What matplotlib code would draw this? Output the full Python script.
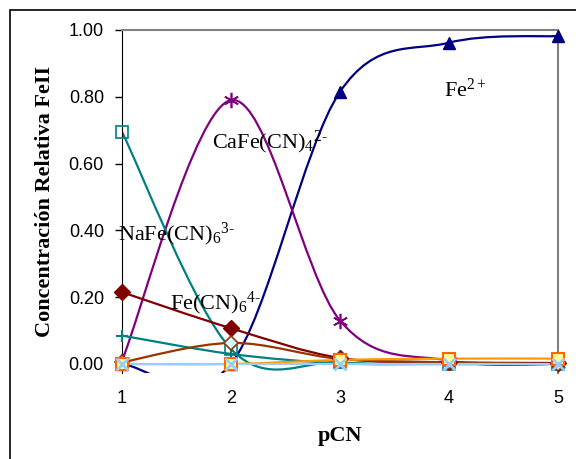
import matplotlib
matplotlib.use('Agg')
import matplotlib.pyplot as plt
from matplotlib.path import Path
from matplotlib.patches import PathPatch, Rectangle

plt.rcParams['mathtext.fontset'] = 'custom'
plt.rcParams['mathtext.rm'] = 'Liberation Serif'
plt.rcParams['mathtext.it'] = 'Liberation Serif:italic'

# data
pcn = [1, 2, 3, 4, 5]
fe2 = [0.0, 0.0, 0.815, 0.962, 0.982]
cafe_cn4 = [0.01, 0.79, 0.13, 0.01, 0.0]
nafe_cn6 = [0.695, 0.045, 0.005, 0.0, 0.0]
fe_cn6 = [0.215, 0.107, 0.018, 0.005, 0.003]
teal_plus = [0.085, 0.03, 0.002, 0.0, 0.0]
brown = [0.005, 0.063, 0.015, 0.005, 0.0]
orange = [0.0, 0.0, 0.012, 0.016, 0.016]
light_blue = [0.0, 0.0, 0.0, 0.0, 0.0]


def smooth_path(xs, ys):
    # Excel style smoothed line: cubic bezier, control points from neighbours
    n = len(xs)
    verts = [(xs[0], ys[0])]
    codes = [Path.MOVETO]
    for i in range(n - 1):
        i0 = max(i - 1, 0)
        i3 = min(i + 2, n - 1)
        c1 = (xs[i] + (xs[i + 1] - xs[i0]) / 6, ys[i] + (ys[i + 1] - ys[i0]) / 6)
        c2 = (xs[i + 1] - (xs[i3] - xs[i]) / 6, ys[i + 1] - (ys[i3] - ys[i]) / 6)
        verts += [c1, c2, (xs[i + 1], ys[i + 1])]
        codes += [Path.CURVE4] * 3
    return Path(verts, codes)


fig = plt.figure(figsize=(5.76, 4.59), dpi=100)
ax = fig.add_axes([122 / 576, 1 - 373 / 459, (558 - 122) / 576, (373 - 30) / 459])

series = [
    (fe2, '#000080', dict(marker='^', mfc='#000080', mec='#000080', ms=9)),
    (cafe_cn4, '#800080', dict(marker=(6, 2, 0), mfc='none', mec='#800080', ms=11, mew=1.2)),
    (nafe_cn6, '#008080', dict(marker='s', mfc='none', mec='#008080', ms=8, mew=1.2)),
    (teal_plus, '#008080', dict(marker='+', mec='#008080', ms=9, mew=1.5)),
    (fe_cn6, '#800000', dict(marker='D', mfc='#800000', mec='#800000', ms=8)),
    (brown, '#993300', dict(marker='D', mfc='#CCFFFF', mec='#993300', ms=7, mew=1.2)),
    (orange, '#FF9900', dict(marker='s', mfc='#FFFF99', mec='#FF6600', ms=8, mew=1.5)),
    (light_blue, '#99CCFF', dict(marker='x', mec='#99CCFF', ms=8, mew=2)),
]

for ys, color, mk in series:
    ax.add_patch(PathPatch(smooth_path(pcn, ys), facecolor='none', edgecolor=color, lw=1.6))
for ys, color, mk in series:
    ax.plot(pcn, ys, linestyle='none', clip_on=False, zorder=5, **mk)

ax.set_xlim(1, 5)
ax.set_ylim(-0.027, 1.0)
ax.set_yticks([0, 0.2, 0.4, 0.6, 0.8, 1.0])
ax.set_yticklabels(['0.00', '0.20', '0.40', '0.60', '0.80', '1.00'])
ax.set_xticks(pcn)
ax.tick_params(axis='y', direction='out', length=5, width=1, pad=8, labelsize=13)
ax.tick_params(axis='x', length=0, pad=12, labelsize=13)
for lab in ax.get_xticklabels() + ax.get_yticklabels():
    lab.set_family('Liberation Sans')

ax.spines['left'].set_color('black')
ax.spines['top'].set_color('#808080')
ax.spines['right'].set_color('#808080')
ax.spines['top'].set_linewidth(1.5)
ax.spines['right'].set_linewidth(1.5)
ax.spines['bottom'].set_visible(False)

ax.set_ylabel('Concentración Relativa FeII', family='Liberation Serif', fontweight='bold', fontsize=16, labelpad=10)
ax.set_xlabel('pCN', family='Liberation Serif', fontweight='bold', fontsize=16, labelpad=14)

tk = dict(fontsize=16, transform=ax.transData)
ax.text(3.95, 0.80, '$\\mathrm{Fe^{2+}}$', **tk)
ax.text(1.83, 0.645, '$\\mathrm{CaFe(CN)_4{}^{2\u2010}}$', **tk)
ax.text(0.96, 0.37, '$\\mathrm{NaFe(CN)_6{}^{3\u2010}}$', **tk)
ax.text(1.44, 0.165, '$\\mathrm{Fe(CN)_6{}^{4\u2010}}$', **tk)

fig.patches.append(Rectangle((10 / 576, -0.5), 2, 1.5 - 10 / 459, transform=fig.transFigure,
                             fill=False, edgecolor='black', lw=1.2))

fig.savefig('out.png', dpi=100)
